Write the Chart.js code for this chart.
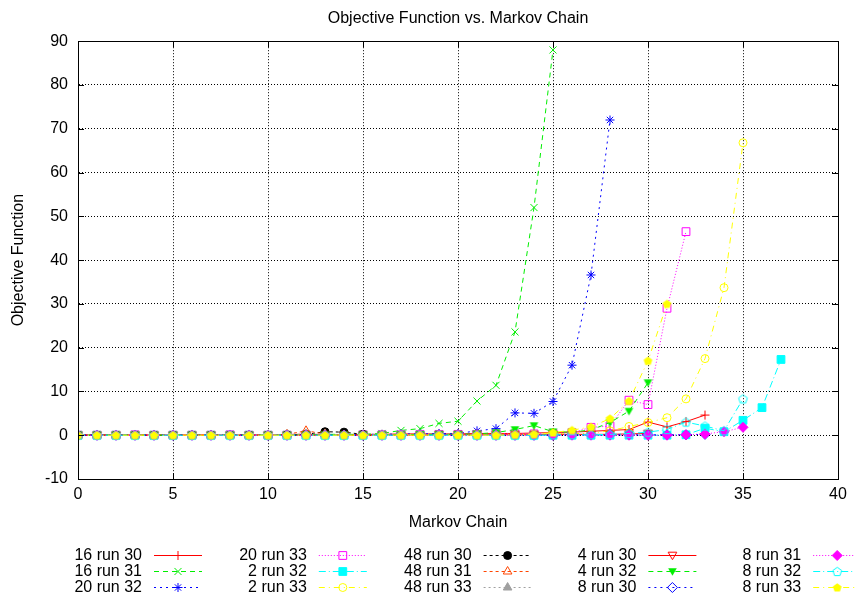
<!DOCTYPE html>
<html><head><meta charset="utf-8">
<script src="https://cdn.jsdelivr.net/npm/chart.js@4.4.0/dist/chart.umd.min.js"></script>
<style>html,body{margin:0;padding:0;background:#fff;}</style>
</head><body>
<canvas id="c" width="855" height="599"></canvas>
<script>
// ---------------- DATA ----------------
const chartTitle = 'Objective Function vs. Markov Chain';
const xTitle = 'Markov Chain';
const yTitle = 'Objective Function';
const xTickMin = 0, xTickMax = 40, xTickStep = 5;
const yTickMin = -10, yTickMax = 90, yTickStep = 10;

const seriesNames = ['16 run 30','16 run 31','20 run 32','20 run 33','2 run 32','2 run 33',
  '48 run 30','48 run 31','48 run 33','4 run 30','4 run 32','8 run 30','8 run 31','8 run 32','8 run 33'];

// values at Markov chain 0,1,2,...
const run16_30 = [0,0.1,0.1,0,0.1,0,0.1,0.1,0,0.1,0.1,0.2,0.2,0.2,0.1,0.2,0.2,0.3,0.3,0.3,0.3,0.4,0.4,0.4,0.5,0.6,0.7,0.9,1.1,1.3,3.0,1.9,3.1,4.6];
const run16_31 = [0,0,0.1,0,0,0.1,0,0,0.1,0,0.1,0.1,0.1,0.2,0.2,0.2,0.4,1.1,1.5,2.7,3.2,7.8,11.4,23.6,52,88];
const run20_32 = [0,0.1,0,0,0.1,0,0,0.1,0,0,0.1,0.1,0.1,0.1,0.2,0.2,0.2,0.3,0.3,0.4,0.4,1.0,1.5,5.1,5.0,7.7,16,36.6,72];
const run20_33 = [0,0,0,0.1,0,0,0,0,0.1,0,0,0,0.1,0.1,0.1,0.1,0.1,0.1,0.2,0.2,0.2,0.2,0.3,0.3,0.3,0.4,0.6,1.8,2.1,8.0,7.0,29,46.5];
const run2_32 = [0,0,0,0,0,0,0,0,0,0,0,0,0,0,0,0,0,0,0,0,0,0,0,0,0,0,0,0,0,0,0,0,0.1,1.6,0.8,3.4,6.3,17.3];
const run2_33 = [0,0,0,0,0,0,0,0,0,0,0,0,0.1,0.1,0.1,0.1,0.1,0.1,0.1,0.1,0.1,0.2,0.2,0.2,0.2,0.3,0.3,0.5,1.0,2.0,2.9,4.0,8.3,17.5,33.7,66.8];
const run48_30 = [0,0,0,0,0,0,0,0,0,0,0,0.1,0.2,0.8,0.7,0.2];
const run48_31 = [0,0,0,0,0,0,0,0,0,0,0,0.2,1.0,0.3];
const run48_33 = [0,0,0,0,0,0,0,0,0,0,0,0.1,0.3,0.2];
const run4_30 = [0,0,0,0,0,0,0,0,0,0,0,0,0,0,0,0,0,0,0,0.1,0.1,0.1,0.1,0.1,0.1,0.2,0.2,0.2,0.2,0.3,0.4];
const run4_32 = [0,0,0,0,0,0,0,0,0,0,0,0,0.1,0.1,0.1,0.1,0.1,0.1,0.2,0.2,0.2,0.3,0.6,1.3,2.2,0.8,0.7,1.2,2.9,5.5,12];
const run8_30 = [0,0,0,0,0,0,0,0,0,0,0,0,0,0,0,0,0,0,0,0,0,0,0,0,0,0,0.1,0.1,0.1,0.1,0.1,0.1,0.1,0.2];
const run8_31 = [0,0,0,0,0,0,0,0,0,0,0,0,0,0,0,0,0,0,0,0,0,0,0,0,0,0,0,0,0,0,0,0,0.1,0.3,0.8,1.8];
const run8_32 = [0,0,0,0,0,0,0,0,0,0,0,0,0,0,0,0,0,0,0,0,0,0,0,0,0,0.1,0.1,0.1,0.2,0.4,0.7,1.3,3.0,2.1,1.0,8.3];
const run8_33 = [0,0,0,0,0,0,0,0,0,0,0,0,0,0,0,0,0,0,0,0,0,0,0,0.1,0.2,0.6,1.15,1.9,3.8,7.8,17,30];

const seriesValues = [run16_30,run16_31,run20_32,run20_33,run2_32,run2_33,run48_30,run48_31,run48_33,
  run4_30,run4_32,run8_30,run8_31,run8_32,run8_33];

// ---------------- STYLES ----------------
function makeMarker(kind, color, filled) {
  const s = 13, c = document.createElement('canvas');
  c.width = s; c.height = s;
  const g = c.getContext('2d');
  g.strokeStyle = color; g.fillStyle = color; g.lineWidth = 1;
  const cx = s / 2, cy = s / 2;
  g.beginPath();
  if (kind === 'invtri') {
    const r = 5;
    for (let k = 0; k < 3; k++) {
      const a = Math.PI / 2 + k * 2 * Math.PI / 3;
      const px = cx + r * Math.cos(a), py = cy - 0.8 + r * Math.sin(a);
      k ? g.lineTo(px, py) : g.moveTo(px, py);
    }
  } else {
    const r = 4.6;
    for (let k = 0; k < 5; k++) {
      const a = -Math.PI / 2 + k * 2 * Math.PI / 5;
      const px = cx + r * Math.cos(a), py = cy + 0.4 + r * Math.sin(a);
      k ? g.lineTo(px, py) : g.moveTo(px, py);
    }
  }
  g.closePath();
  if (filled) g.fill(); else g.stroke();
  return c;
}

const RED='#ff0000', GREEN='#00ee00', BLUE='#0000ff', MAG='#ff00ff', CYAN='#00ffff', YEL='#ffff00',
      BLK='#000000', ORA='#ff4500', GRY='#a0a0a0';
const TR = 'rgba(0,0,0,0)';
const styles = [
  {c:RED,  dash:[],          ps:'cross',    r:4.5, bg:TR},
  {c:GREEN,dash:[5,4],       ps:'crossRot', r:5,   bg:TR},
  {c:BLUE, dash:[2,4],       ps:'star',     r:4.5, bg:TR},
  {c:MAG,  dash:[1,2],       ps:'rect',     r:5.5, bg:TR},
  {c:CYAN, dash:[7,3,1,3],   ps:'rect',     r:5.5, bg:CYAN},
  {c:YEL,  dash:[6,4,1,4],   ps:'circle',   r:4,   bg:TR},
  {c:BLK,  dash:[3,3],       ps:'circle',   r:4,   bg:BLK},
  {c:ORA,  dash:[3,3],       ps:'triangle', r:5,   bg:TR},
  {c:GRY,  dash:[2,3],       ps:'triangle', r:5,   bg:GRY},
  {c:RED,  dash:[],          ps:makeMarker('invtri', RED, false),  r:5, bg:TR},
  {c:GREEN,dash:[5,4],       ps:makeMarker('invtri', GREEN, true), r:5, bg:GREEN},
  {c:BLUE, dash:[2,4],       ps:'rectRot',  r:5,   bg:TR},
  {c:MAG,  dash:[1,2],       ps:'rectRot',  r:5,   bg:MAG},
  {c:CYAN, dash:[7,3,1,3],   ps:makeMarker('penta', CYAN, false), r:5, bg:TR},
  {c:YEL,  dash:[6,4,1,4],   ps:makeMarker('penta', YEL, true),  r:5, bg:YEL}
];

const FONT = '"Liberation Sans", Arial, sans-serif';
Chart.defaults.font.family = FONT;
Chart.defaults.font.size = 16;
Chart.defaults.color = '#000';

const datasets = seriesNames.map((name, i) => ({
  label: name,
  data: seriesValues[i].map((v, k) => ({x: k, y: v})),
  borderColor: styles[i].c,
  backgroundColor: styles[i].c,
  borderWidth: 1,
  borderDash: styles[i].dash,
  pointStyle: styles[i].ps,
  pointRadius: styles[i].r,
  pointHoverRadius: styles[i].r,
  pointBorderColor: styles[i].c,
  pointBackgroundColor: styles[i].bg,
  pointBorderWidth: 1,
  fill: false,
  tension: 0,
  order: seriesNames.length - i
}));

// frame, inward tick marks and gnuplot-like key
const gnuplotFrame = {
  id: 'gnuplotFrame',
  afterDatasetsDraw(chart) {
    const {ctx, chartArea: a, scales: {x, y}} = chart;
    ctx.save();
    ctx.setLineDash([]);
    ctx.strokeStyle = '#000';
    ctx.lineWidth = 1;
    ctx.strokeRect(Math.round(a.left) + 0.5, Math.round(a.top) + 0.5,
      Math.round(a.right - a.left), Math.round(a.bottom - a.top));
    ctx.beginPath();
    const tl = 6;
    x.ticks.forEach(t => {
      const px = Math.round(x.getPixelForValue(t.value)) + 0.5;
      ctx.moveTo(px, a.bottom); ctx.lineTo(px, a.bottom - tl);
      ctx.moveTo(px, a.top); ctx.lineTo(px, a.top + tl);
    });
    y.ticks.forEach(t => {
      const py = Math.round(y.getPixelForValue(t.value)) + 0.5;
      ctx.moveTo(a.left, py); ctx.lineTo(a.left + tl, py);
      ctx.moveTo(a.right, py); ctx.lineTo(a.right - tl, py);
    });
    ctx.stroke();
    ctx.restore();
  },
  afterDraw(chart) {
    const ctx = chart.ctx;
    ctx.save();
    ctx.font = '16px ' + FONT;
    ctx.textBaseline = 'middle';
    ctx.textAlign = 'right';
    const colStep = 164.8, textRight = 142, sampleL = 154, sampleW = 48;
    const rowY0 = 555, rowStep = 15.8;
    chart.data.datasets.forEach((ds, i) => {
      const col = Math.floor(i / 3), row = i % 3;
      const yy = Math.round(rowY0 + row * rowStep) + 0.5;
      const ox = col * colStep;
      ctx.fillStyle = '#000';
      ctx.fillText(ds.label, textRight + ox, yy);
      ctx.strokeStyle = ds.borderColor;
      ctx.lineWidth = 1;
      ctx.setLineDash(ds.borderDash);
      ctx.beginPath();
      ctx.moveTo(sampleL + ox, yy);
      ctx.lineTo(sampleL + ox + sampleW, yy);
      ctx.stroke();
      ctx.setLineDash([]);
      ctx.strokeStyle = ds.pointBorderColor;
      ctx.fillStyle = ds.pointBackgroundColor;
      const cx = sampleL + ox + sampleW / 2;
      if (Chart.helpers && Chart.helpers.drawPoint) {
        Chart.helpers.drawPoint(ctx, {pointStyle: ds.pointStyle, radius: ds.pointRadius, borderWidth: 1, rotation: 0}, cx, yy);
      }
    });
    ctx.restore();
  }
};

new Chart(document.getElementById('c'), {
  type: 'line',
  data: {datasets},
  options: {
    responsive: false,
    animation: false,
    events: [],
    layout: {padding: {left: 0, right: 17, top: 0, bottom: 60}},
    plugins: {
      legend: {display: false},
      tooltip: {enabled: false},
      title: {
        display: true, text: chartTitle, fullSize: false,
        font: {size: 16, weight: 'normal'}, color: '#000',
        padding: {top: 9, bottom: 13}
      }
    },
    scales: {
      x: {
        type: 'linear', min: xTickMin, max: xTickMax,
        ticks: {stepSize: xTickStep, padding: 6, color: '#000', font: {size: 16}},
        grid: {color: '#000', lineWidth: 1, drawTicks: false},
        border: {display: true, color: '#000', width: 1, dash: [1, 2]},
        title: {display: true, text: xTitle, color: '#000', font: {size: 16}, padding: {top: 0, bottom: 7}},
        afterFit(s) { s.height = 60; }
      },
      y: {
        type: 'linear', min: yTickMin, max: yTickMax,
        ticks: {stepSize: yTickStep, padding: 10, color: '#000', font: {size: 16}},
        grid: {color: '#000', lineWidth: 1, drawTicks: false},
        border: {display: true, color: '#000', width: 1, dash: [1, 2]},
        title: {display: true, text: yTitle, color: '#000', font: {size: 16}, padding: {top: 9, bottom: 0}},
        afterFit(s) { s.width = 78; }
      }
    }
  },
  plugins: [gnuplotFrame]
});
</script>
</body></html>
